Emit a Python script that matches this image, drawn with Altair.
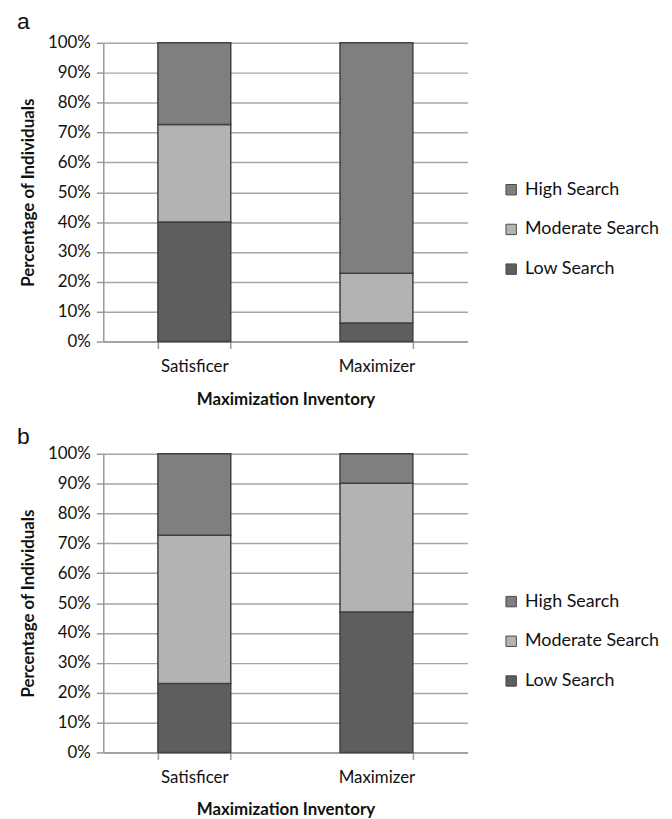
import altair as alt
import pandas as pd

categories = ["Satisficer", "Maximizer"]
levels = ["High Search", "Moderate Search", "Low Search"]
level_colors = ["#7f7f7f", "#b3b3b3", "#5e5e5e"]

# panel a
a_low = [40.0, 6.2]
a_mod = [32.7, 16.7]
a_high = [27.3, 77.1]
# panel b
b_low = [23.1, 47.0]
b_mod = [49.6, 43.1]
b_high = [27.3, 9.9]

y_ticks = list(range(0, 101, 10))
FONT = "Lato"


def panel(low, mod, high, letter, legend_y, letter_y):
    rows = []
    for i, c in enumerate(categories):
        for lvl, vals, rank in [("Low Search", low, 0), ("Moderate Search", mod, 1), ("High Search", high, 2)]:
            rows.append({"cat": c, "level": lvl, "pct": vals[i], "rank": rank})
    df = pd.DataFrame(rows)
    bars = alt.Chart(df).mark_bar(stroke="#404040", strokeWidth=1.5).encode(
        x=alt.X("cat:N", sort=categories,
                scale=alt.Scale(paddingInner=0.6, paddingOuter=0.3),
                axis=alt.Axis(title="Maximization Inventory", labelAngle=0, tickBand="extent",
                              grid=False, labelPadding=10, titlePadding=17)),
        y=alt.Y("pct:Q", stack="zero", scale=alt.Scale(domain=[0, 100], nice=False),
                axis=alt.Axis(values=y_ticks, labelExpr="datum.value + '%'",
                              title="Percentage of Individuals", grid=True,
                              labelPadding=6, titlePadding=10)),
        color=alt.Color("level:N", scale=alt.Scale(domain=levels, range=level_colors),
                        legend=alt.Legend(title=None, orient="none", legendX=402, legendY=legend_y,
                                          symbolType="square", symbolSize=110,
                                          symbolStrokeColor="#4a4a4a", symbolStrokeWidth=1,
                                          labelFontSize=18, labelFont=FONT, labelColor="#111",
                                          rowPadding=22, labelOffset=5)),
        order=alt.Order("rank:Q", sort="ascending"),
    )
    lab = alt.Chart(pd.DataFrame({"t": [letter]})).mark_text(
        align="left", baseline="alphabetic", fontSize=23, font="Liberation Sans", color="#111"
    ).encode(text="t:N", x=alt.value(-87), y=alt.value(letter_y))
    return alt.layer(bars, lab).properties(width=367, height=301)


pa = panel(a_low, a_mod, a_high, "a", 139, -14)
pb = panel(b_low, b_mod, b_high, "b", 140, -10)

chart = alt.vconcat(pa, pb, spacing=19).resolve_scale(color="independent").resolve_legend(
    color="independent"
).properties(
    padding={"left": 9, "top": 0, "right": 5, "bottom": 5}
).configure_axis(
    domainColor="#9a9a9a", domainWidth=1.5, gridColor="#a6a6a6", gridWidth=1.5,
    tickColor="#9a9a9a", tickWidth=1.5, tickSize=7,
    labelFont=FONT, labelFontSize=17, labelColor="#111",
    titleFont=FONT, titleFontSize=17, titleFontWeight="bold", titleColor="#111",
).configure_view(stroke=None)

chart.save("out.html", embed_options={"renderer": "svg", "actions": False})
